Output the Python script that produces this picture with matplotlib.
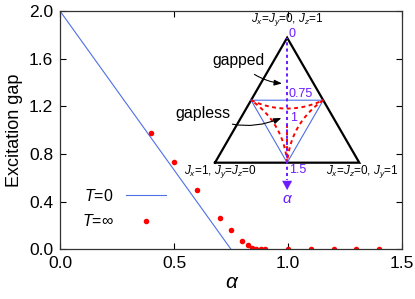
import numpy as np
import matplotlib
matplotlib.use("Agg")
from matplotlib import pyplot as plt

plt.rcParams['font.family'] = ['Liberation Sans', 'DejaVu Sans']
plt.rcParams['mathtext.fontset'] = 'custom'
plt.rcParams['mathtext.rm'] = 'Liberation Sans'
plt.rcParams['mathtext.it'] = 'Liberation Sans:italic'

# data
t0_alpha = [0.0, 0.75]
t0_gap = [2.0, 0.0]
tinf_alpha = [0.4, 0.5, 0.6, 0.7, 0.75, 0.8, 0.825, 0.84, 0.86, 0.88, 0.9,
              1.0, 1.1, 1.2, 1.3, 1.4]
tinf_gap = [0.98, 0.735, 0.495, 0.265, 0.162, 0.072, 0.04, 0.015, 0.0, 0.0, 0.0,
            0.0, 0.0, 0.0, 0.0, 0.0]
x_ticks = [0.0, 0.5, 1.0, 1.5]
y_ticks = [0.0, 0.4, 0.8, 1.2, 1.6, 2.0]
inset_alpha = [0, 0.75, 1, 1.5]   # marks along the alpha arrow of the inset

blue = '#4f6fe8'
purple = '#6a1bff'

fig = plt.figure(figsize=(4.15, 2.99), dpi=100)
ax = fig.add_axes([0.1446, 0.1662, 0.8241, 0.797])

ax.plot(t0_alpha, t0_gap, color=blue, lw=0.8, label=r'$T$=0')
ax.plot(tinf_alpha, tinf_gap, 'o', color='red', ms=4, mec='none',
        label=r'$T$=$\infty$')
ax.set_xlim(0, 1.5)
ax.set_ylim(0, 2.0)
ax.set_xticks(x_ticks)
ax.set_yticks(y_ticks)
ax.set_xticklabels(['%.1f' % v for v in x_ticks])
ax.set_yticklabels(['%.1f' % v for v in y_ticks])
ax.tick_params(direction='in', top=True, right=True, labelsize=12.5,
               length=4, width=0.8, pad=5)
for s in ax.spines.values():
    s.set_linewidth(0.9)
    s.set_color('#333333')
ax.set_xlabel('α', fontsize=15, style='italic', labelpad=1)
ax.set_ylabel('Excitation gap', fontsize=13, labelpad=4)

ax.legend(loc='center left', bbox_to_anchor=(0.064, 0.172), frameon=False,
          markerfirst=False, fontsize=11.5, handlelength=2.5, handletextpad=0.75,
          borderpad=0, borderaxespad=0, labelspacing=0.6)

# inset: triangle phase diagram, side length 1
ins = fig.add_axes([0.3094, 0.2870, 0.6607, 0.6756])
ins.set_xlim(-0.6, 1.3)
ins.set_ylim(-0.35, 1.05)
ins.axis('off')
ins.patch.set_visible(False)

h = np.sqrt(3) / 2
tri = np.array([[0, 0], [1, 0], [0.5, h], [0, 0]])
ins.plot(tri[:, 0], tri[:, 1], color='black', lw=1.6, solid_joinstyle='miter')

mids = np.array([[0.25, h / 2], [0.75, h / 2], [0.5, 0], [0.25, h / 2]])
ins.plot(mids[:, 0], mids[:, 1], color=blue, lw=0.8)

# red dashed deltoid between the medial points
G = np.array([0.5, h / 3])
tt = np.linspace(0, 1, 60)[:, None]
for i in range(3):
    p0, p2 = mids[i], mids[i + 1]
    c = (p0 + p2) / 2 + 0.8 * (G - (p0 + p2) / 2)
    curve = (1 - tt) ** 2 * p0 + 2 * (1 - tt) * tt * c + tt ** 2 * p2
    ins.plot(curve[:, 0], curve[:, 1], color='red', lw=1.4, ls=(0, (2, 1.8)))
ins.plot([0.5, 0.5], [h / 3 - 0.02, 0], color='red', lw=1.4, ls=(0, (2, 1.8)))

# alpha axis down the middle
ins.plot([0.5, 0.5], [h, -0.12], color=purple, lw=1.4, ls=(1, (1.6, 1.6)))
ins.annotate('', xy=(0.5, -0.19), xytext=(0.5, -0.11),
             arrowprops=dict(arrowstyle='-|>,head_length=0.65,head_width=0.35',
                             color=purple, lw=0.1, shrinkA=0, shrinkB=0))
ins.text(0.5, -0.25, 'α', color=purple, fontsize=11, style='italic',
         ha='center', va='center')
for a in inset_alpha:
    v = h * (1 - a / 1.5)
    off = {0: 0.025, 0.75: 0.04, 1: 0.02, 1.5: -0.05}[a]
    ins.text(0.51 if a != 1 else 0.52, v + off, str(a), color=purple,
             fontsize=9, ha='left', va='center')

ins.text(0.5, 0.99, r'$J_x$=$J_y$=0, $J_z$=1', fontsize=8.5, ha='center', va='center')
ins.text(0.038, -0.062, r'$J_x$=1, $J_y$=$J_z$=0', fontsize=8.5, ha='center', va='center')
ins.text(1.019, -0.062, r'$J_x$=$J_z$=0, $J_y$=1', fontsize=8.5, ha='center', va='center')

ins.annotate('gapped', xy=(0.464, 0.549), xytext=(0.166, 0.705), fontsize=11.3,
             ha='center', va='center',
             arrowprops=dict(arrowstyle='-|>,head_length=0.4,head_width=0.15',
                             color='black', lw=0.8, shrinkA=4, shrinkB=0,
                             connectionstyle='arc3,rad=0.2'))
ins.annotate('gapless', xy=(0.46, 0.31), xytext=(-0.083, 0.344), fontsize=11.5,
             ha='center', va='center',
             arrowprops=dict(arrowstyle='-|>,head_length=0.4,head_width=0.15',
                             color='black', lw=0.8, shrinkA=3, shrinkB=0,
                             connectionstyle='arc3,rad=0.25'))

fig.savefig('out.png', dpi=100)
